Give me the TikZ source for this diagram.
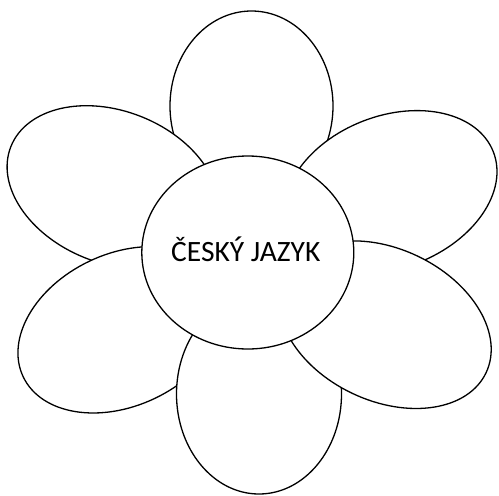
\documentclass[tikz,border=0pt]{standalone}
\usepackage{fontspec}
\setmainfont{Carlito}
\usetikzlibrary{shapes.geometric}
\begin{document}
\begin{tikzpicture}[x=1pt, y=-1pt,
  petal/.style={ellipse, draw=black, fill=white, line width=1.3pt, inner sep=0pt},
  heart/.style={ellipse, draw=black, fill=white, line width=1.3pt, inner sep=0pt, minimum width=212pt, minimum height=193pt}]
\useasboundingbox (0,0) rectangle (499,496);
% petals, back to front
\node[petal, minimum width=163pt, minimum height=190pt] (petalN) at (251.5,106) {};
\node[petal, minimum width=220pt, minimum height=152pt, rotate=-21.7] (petalNW) at (113.1,187.2) {};
\node[petal, minimum width=221pt, minimum height=152pt, rotate=21.3] (petalNE) at (390.4,192.0) {};
\node[petal, minimum width=219pt, minimum height=152pt, rotate=25.4] (petalSW) at (122.1,329.8) {};
\node[petal, minimum width=165pt, minimum height=200pt] (petalS) at (259,394) {};
\node[petal, minimum width=224pt, minimum height=152pt, rotate=-25.4] (petalSE) at (384.9,324.7) {};
% middle
\node[heart] (middle) at (247.8,252.5) {};
\node[anchor=base, font=\fontsize{29.5}{35}\selectfont] (title) at (245.8,261.7) {ČESKÝ JAZYK};
\end{tikzpicture}
\end{document}
